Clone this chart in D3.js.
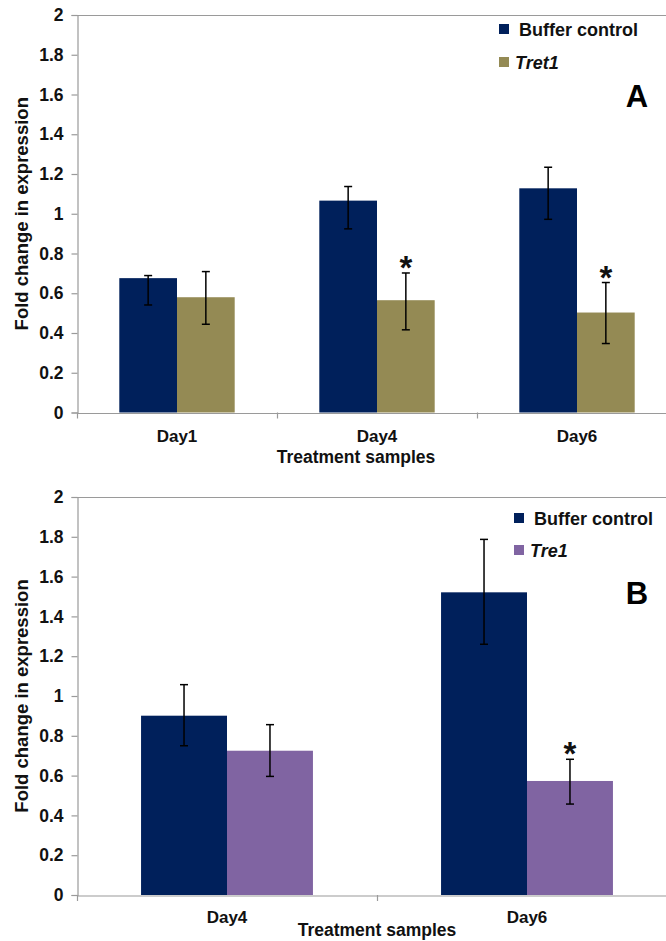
<!DOCTYPE html>
<html>
<head>
<meta charset="utf-8">
<script src="https://cdn.jsdelivr.net/npm/d3@7/dist/d3.min.js"></script>
<style>
  html, body { margin: 0; padding: 0; background: #fff; }
  svg { display: block; }
  text { font-family: "Liberation Sans", Arial, sans-serif; }
</style>
</head>
<body>
<svg id="chart" width="666" height="941"></svg>
<script>
// ---- Data ----
const yTickValues = [0, 0.2, 0.4, 0.6, 0.8, 1, 1.2, 1.4, 1.6, 1.8, 2];
const yTickLabels = ["0", "0.2", "0.4", "0.6", "0.8", "1", "1.2", "1.4", "1.6", "1.8", "2"];

// Panel A
const catsA = ["Day1", "Day4", "Day6"];
const bufferA = [0.676, 1.066, 1.128];
const bufferAHigh = [0.689, 1.137, 1.234];
const bufferALow = [0.541, 0.924, 0.972];
const tret1A = [0.580, 0.565, 0.503];
const tret1AHigh = [0.709, 0.702, 0.654];
const tret1ALow = [0.444, 0.416, 0.347];
const sigA = [false, true, true];

// Panel B
const catsB = ["Day4", "Day6"];
const bufferB = [0.901, 1.521];
const bufferBHigh = [1.057, 1.787];
const bufferBLow = [0.750, 1.260];
const tre1B = [0.725, 0.573];
const tre1BHigh = [0.856, 0.682];
const tre1BLow = [0.596, 0.457];
const sigB = [false, true];

const seriesNamesA = ["Buffer control", "Tret1"];
const seriesNamesB = ["Buffer control", "Tre1"];

// ---- Style ----
const navy = "#00205B";
const olive = "#948A54";
const purple = "#8064A2";
const axisGray = "#9a9a9a";

const svg = d3.select("#chart");

function drawPanel(opts) {
  const g = svg.append("g");
  const x0 = 77, x1 = 677;
  const y = d3.scaleLinear().domain([0, 2]).range([opts.yBottom, opts.yTop]);
  const x = d3.scaleBand().domain(opts.cats).range([x0, x1]).paddingInner(0).paddingOuter(0);
  const inner = d3.scaleBand().domain([0, 1]).range([0, x.bandwidth() * opts.groupFrac]);
  const groupOffset = (x.bandwidth() - x.bandwidth() * opts.groupFrac) / 2;

  // top border
  g.append("line").attr("x1", x0).attr("x2", x1).attr("y1", opts.yTop + 0.5).attr("y2", opts.yTop + 0.5)
    .attr("stroke", axisGray).attr("stroke-width", 1.2);

  // y axis
  const yAxis = d3.axisLeft(y).tickValues(yTickValues).tickFormat((d, i) => yTickLabels[i]).tickSize(6).tickPadding(8);
  const ya = g.append("g").attr("transform", `translate(${x0 + 0.5},0)`).call(yAxis);
  ya.select(".domain").attr("stroke", axisGray).attr("stroke-width", 1.2);
  ya.selectAll(".tick line").attr("stroke", axisGray).attr("stroke-width", 1.2);
  ya.selectAll(".tick text").attr("fill", "#111").attr("font-size", 17.5).attr("font-weight", "bold")
    .attr("font-family", "Liberation Sans, Arial, sans-serif");

  const series = opts.series;
  opts.cats.forEach((c, ci) => {
    series.forEach((s, si) => {
      const bx = x(c) + groupOffset + inner(si);
      g.append("rect")
        .attr("x", bx).attr("width", inner.bandwidth())
        .attr("y", y(s.values[ci])).attr("height", y(0) - y(s.values[ci]))
        .attr("fill", s.color);
      const cx = bx + inner.bandwidth() / 2;
      const hi = y(s.high[ci]), lo = y(s.low[ci]);
      g.append("line").attr("x1", cx).attr("x2", cx).attr("y1", hi).attr("y2", lo).attr("stroke", "#000").attr("stroke-width", 1.5);
      g.append("line").attr("x1", cx - 4).attr("x2", cx + 4).attr("y1", hi).attr("y2", hi).attr("stroke", "#000").attr("stroke-width", 1.5);
      g.append("line").attr("x1", cx - 4).attr("x2", cx + 4).attr("y1", lo).attr("y2", lo).attr("stroke", "#000").attr("stroke-width", 1.5);
      if (si === 1 && opts.sig[ci]) {
        g.append("text").attr("x", cx).attr("y", hi + 6).attr("text-anchor", "middle")
          .attr("font-size", 33).attr("font-weight", "bold").attr("fill", "#111").text("*");
      }
    });
  });

  // x axis
  const xAxis = d3.axisBottom(x).tickSize(0).tickPadding(0);
  const xa = g.append("g").attr("transform", `translate(0,${opts.yBottom + 0.5})`).call(xAxis);
  xa.select(".domain").attr("stroke", axisGray).attr("stroke-width", 1.2);
  xa.selectAll(".tick text").remove();
  xa.selectAll(".tick line").remove();
  const bounds = opts.cats.map(c => x(c)).concat([x1]);
  bounds.forEach(b => {
    g.append("line").attr("x1", b + 0.5).attr("x2", b + 0.5).attr("y1", opts.yBottom).attr("y2", opts.yBottom + 6)
      .attr("stroke", axisGray).attr("stroke-width", 1.2);
  });
  opts.cats.forEach(c => {
    g.append("text").attr("x", x(c) + x.bandwidth() / 2).attr("y", opts.yBottom + opts.catLabelDy)
      .attr("text-anchor", "middle").attr("font-size", 17).attr("font-weight", "bold").attr("fill", "#111").text(c);
  });
  g.append("text").attr("x", opts.xTitleX).attr("y", opts.yBottom + opts.xTitleDy)
    .attr("text-anchor", "middle").attr("font-size", 17.5).attr("font-weight", "bold").attr("fill", "#111")
    .text("Treatment samples");

  // y title
  g.append("text").attr("transform", `translate(28,${(opts.yTop + opts.yBottom) / 2}) rotate(-90)`)
    .attr("text-anchor", "middle").attr("font-size", 18.5).attr("font-weight", "bold").attr("fill", "#111")
    .text("Fold change in expression");

  // legend
  series.forEach((s, si) => {
    const ly = opts.legend.y + si * opts.legend.gap;
    g.append("rect").attr("x", opts.legend.x).attr("y", ly - 5).attr("width", 10).attr("height", 10).attr("fill", s.color);
    g.append("text").attr("x", opts.legend.x + (si === 0 ? 20 : 16)).attr("y", ly + 6.5)
      .attr("font-size", 18).attr("font-weight", "bold").attr("fill", "#111")
      .attr("font-style", si === 1 ? "italic" : "normal").text(s.name);
  });

  // panel letter
  g.append("text").attr("x", 637).attr("y", opts.letterY).attr("text-anchor", "middle")
    .attr("font-size", 31).attr("font-weight", "bold").attr("fill", "#000").text(opts.letter);
}

drawPanel({
  cats: catsA, yTop: 15, yBottom: 412.5, groupFrac: 0.577,
  series: [
    { name: seriesNamesA[0], color: navy, values: bufferA, high: bufferAHigh, low: bufferALow },
    { name: seriesNamesA[1], color: olive, values: tret1A, high: tret1AHigh, low: tret1ALow }
  ],
  sig: sigA, catLabelDy: 29, xTitleX: 356, xTitleDy: 50,
  legend: { x: 499, y: 29, gap: 33 }, letter: "A", letterY: 107
});

drawPanel({
  cats: catsB, yTop: 497, yBottom: 895, groupFrac: 0.573,
  series: [
    { name: seriesNamesB[0], color: navy, values: bufferB, high: bufferBHigh, low: bufferBLow },
    { name: seriesNamesB[1], color: purple, values: tre1B, high: tre1BHigh, low: tre1BLow }
  ],
  sig: sigB, catLabelDy: 28, xTitleX: 377, xTitleDy: 41,
  legend: { x: 514, y: 518, gap: 32 }, letter: "B", letterY: 604
});
</script>
</body>
</html>
